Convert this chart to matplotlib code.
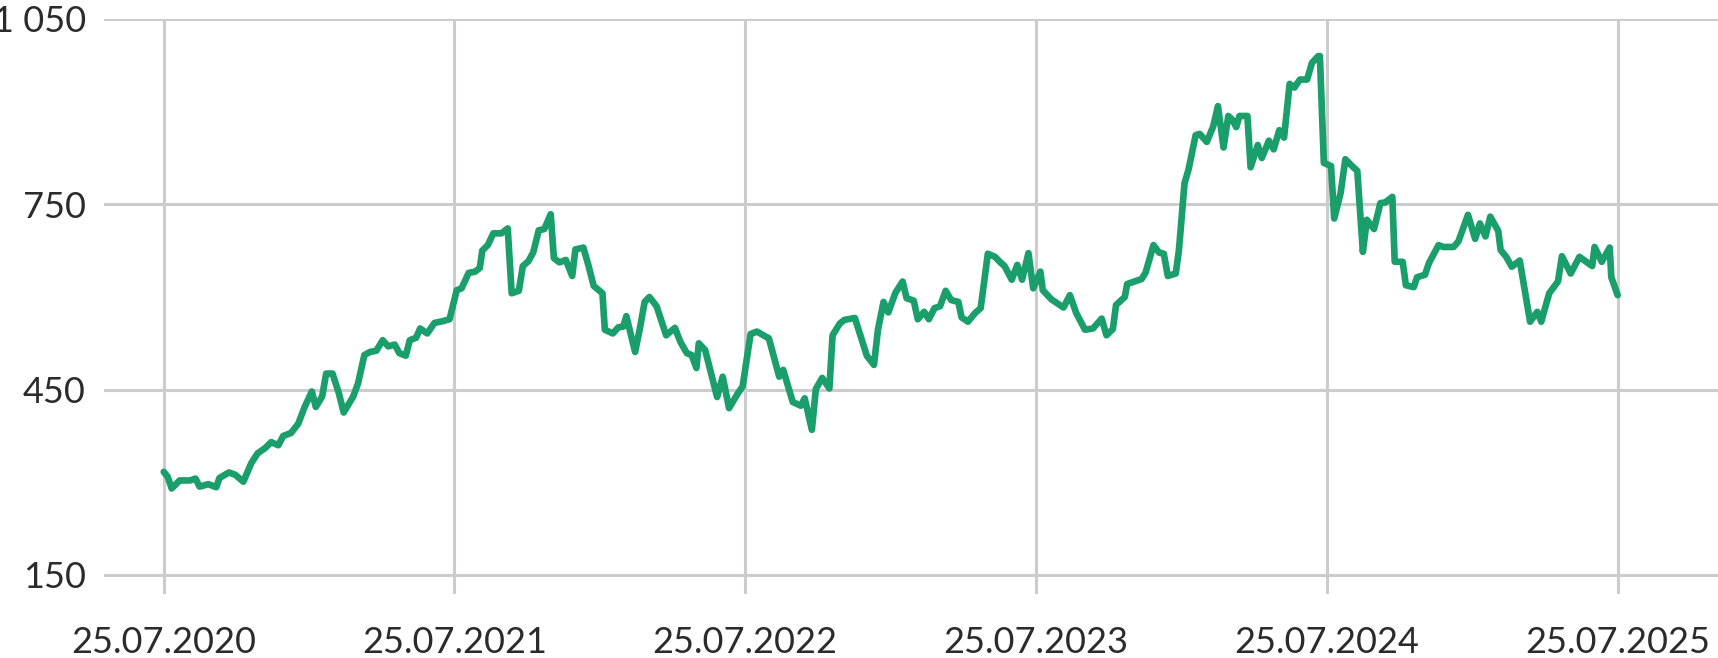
import matplotlib
matplotlib.use("Agg")
import matplotlib.pyplot as plt
from matplotlib.ticker import FuncFormatter
import pandas as pd

# ---- data ----
start_date = "2020-07-25"
day_offsets = [
    0, 5, 10, 20, 33, 40, 45, 56, 66, 70, 82, 90, 100, 110, 118, 127, 135, 144, 150, 160,
    169, 177, 186, 191, 199, 204, 212, 220, 226, 238, 244, 252, 259, 267, 275, 282, 290, 296,
    304, 309, 317, 322, 331, 340, 351, 359, 368, 374, 383, 391, 397, 400, 407, 414, 424, 432,
    437, 446, 451, 458, 464, 471, 478, 486, 490, 497, 505, 513, 517, 527, 533, 540, 551, 554,
    564, 571, 577, 581, 592, 598, 604, 610, 619, 631, 642, 649, 657, 663, 669, 672, 680, 695,
    702, 710, 721, 727, 737, 745, 760, 773, 778, 790, 800, 805, 814, 819, 827, 836, 840, 849,
    855, 868, 883, 892, 897, 904, 910, 919, 928, 933, 942, 947, 955, 961, 968, 975, 982, 989,
    998, 1002, 1010, 1019, 1026, 1035, 1044, 1050, 1056, 1065, 1072, 1078, 1086, 1092, 1101,
    1104, 1115, 1130, 1138, 1146, 1157, 1167, 1178, 1184, 1192, 1196, 1207, 1210, 1228, 1233,
    1243, 1250, 1256, 1261, 1271, 1275, 1282, 1287, 1296, 1301, 1310, 1318, 1324, 1331, 1337,
    1342, 1347, 1351, 1361, 1365, 1374, 1379, 1388, 1394, 1401, 1407, 1414, 1420, 1427, 1436,
    1442, 1450, 1452, 1457, 1466, 1470, 1478, 1484, 1490, 1499, 1506, 1511, 1520, 1528, 1534,
    1543, 1546, 1556, 1560, 1570, 1574, 1584, 1589, 1601, 1607, 1620, 1626, 1638, 1647, 1653,
    1660, 1666, 1676, 1679, 1686, 1693, 1703, 1716, 1725, 1730, 1740, 1751, 1756, 1767, 1778,
    1794, 1797, 1806, 1816, 1818, 1826,
]
values = [
    317, 309, 290, 303, 303, 306, 293, 297, 292, 307, 316, 312, 301, 331, 347, 355, 365, 360, 375, 380,
    395, 422, 447, 422, 439, 476, 476, 444, 413, 439, 460, 506, 511, 513, 530, 520, 523, 509,
    505, 530, 534, 549, 541, 558, 561, 564, 611, 614, 639, 641, 647, 675, 684, 703, 703, 711,
    606, 610, 650, 658, 672, 708, 710, 734, 663, 656, 660, 634, 677, 680, 653, 618, 606, 547,
    541, 551, 552, 569, 511, 549, 592, 600, 585, 538, 550, 527, 509, 506, 485, 525, 514, 438,
    471, 420, 444, 455, 540, 544, 533, 471, 482, 430, 424, 436, 385, 451, 469, 452, 538, 557,
    563, 566, 505, 490, 547, 592, 575, 607, 625, 598, 594, 564, 576, 564, 582, 585, 610, 595,
    592, 567, 560, 574, 582, 670, 665, 657, 650, 628, 652, 628, 671, 614, 641,
    611, 596, 583, 603, 574, 547, 549, 565, 538, 548, 587, 600, 621, 629, 639,
    684, 672, 670, 634, 638, 676, 784, 806, 862, 864, 851, 876, 909, 842, 893,
    887, 875, 893, 893, 810, 846, 825, 853, 839, 870, 858, 945, 939, 952, 952,
    979, 990, 990, 817, 812, 727, 768, 823, 815, 804, 673, 725, 710, 752, 753,
    762, 657, 657, 619, 616, 632, 636, 655, 684, 681, 681, 690, 733, 694, 719,
    698, 730, 707, 676, 665, 649, 659, 560, 576, 560, 606, 625, 666, 638, 665,
    650, 681, 657, 680, 632, 603,
]
tick_dates = ["2020-07-25", "2021-07-25", "2022-07-25", "2023-07-25", "2024-07-25", "2025-07-25"]
tick_labels = ["25.07.2020", "25.07.2021", "25.07.2022", "25.07.2023", "25.07.2024", "25.07.2025"]
y_ticks = [150, 450, 750, 1050]

# ---- style ----
LINE_COLOR = "#1a9e6b"
GRID_COLOR = "#cccccc"
TEXT_COLOR = "#2b2b2b"
FONT = ["Lato", "DejaVu Sans"]

dates = pd.Timestamp(start_date) + pd.to_timedelta(day_offsets, unit="D")

fig = plt.figure(figsize=(17.18, 6.58), dpi=100)
ax = fig.add_axes([104 / 1718, (658 - 594) / 658, 1 - 104 / 1718, (594 - 19) / 658])

ax.plot(dates, values, color=LINE_COLOR, lw=4.8, solid_joinstyle="round",
        solid_capstyle="round", zorder=3)

t0 = pd.Timestamp(start_date)
t_end = pd.Timestamp(tick_dates[-1])
ax.set_xlim(t0 - pd.Timedelta(days=75), t_end + pd.Timedelta(days=126))
ax.set_ylim(119.2, 1050)

ax.set_xticks(pd.to_datetime(tick_dates))
ax.set_xticklabels(tick_labels)
ax.set_yticks(y_ticks)
ax.yaxis.set_major_formatter(FuncFormatter(lambda v, p: f"{int(v):,}".replace(",", " ")))

ax.grid(True, color=GRID_COLOR, lw=2.2, zorder=0)
ax.set_axisbelow(True)
for s in ax.spines.values():
    s.set_visible(False)

ax.tick_params(axis="both", length=0, labelsize=26, labelcolor=TEXT_COLOR)
ax.tick_params(axis="y", pad=13)
ax.tick_params(axis="x", pad=23)
for lab in ax.get_xticklabels() + ax.get_yticklabels():
    lab.set_family(FONT)
    lab.set_fontweight("normal")

fig.savefig("out.png", dpi=100, facecolor="white")
